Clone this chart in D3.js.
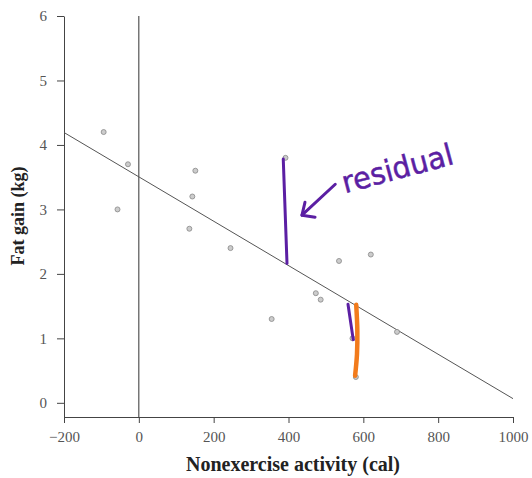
<!DOCTYPE html>
<html>
<head>
<meta charset="utf-8">
<script src="https://cdn.jsdelivr.net/npm/d3@7"></script>
<style>
  body { margin: 0; background: #fff; }
  .serif { font-family: "Liberation Serif", "Times New Roman", serif; }
  .tick text { font-family: "Liberation Serif", "Times New Roman", serif; font-size: 15px; fill: #555; }
  .tick line, .domain { stroke: #444; }
</style>
</head>
<body>
<div id="chart"></div>
<script>
// ---- data ----
const nea = [-94, -57, -29, 135, 143, 151, 245, 355, 392, 473, 486, 535, 571, 580, 620, 690];
const fat = [4.2, 3.0, 3.7, 2.7, 3.2, 3.6, 2.4, 1.3, 3.8, 1.7, 1.6, 2.2, 1.0, 0.4, 2.3, 1.1];

// fitted line: fat = a + b * nea
const intercept = 3.505;
const slope = -0.00344;

const xTicks = [-200, 0, 200, 400, 600, 800, 1000];
const yTicks = [0, 1, 2, 3, 4, 5, 6];

// hand drawn marks, in data units
const purpleLong = [[386, 3.78], [396, 2.16]];
const purpleShort = [[559, 1.53], [573, 0.98]];
const orangeMark = [[581, 1.52], [584, 1.12], [583, 0.75], [578, 0.42]];
const arrowShaft = [[525, 3.39], [436, 2.91]];
const arrowHead = [[444, 3.11], [436, 2.91], [471, 2.88]];
const noteText = "residual";
const notePos = [551, 3.25];

// ---- svg ----
const width = 532;
const height = 478;
const svg = d3.select("#chart")
  .append("svg")
  .attr("width", width)
  .attr("height", height);

const x = d3.scaleLinear().domain([-200, 1000]).range([64, 513]);
const y = d3.scaleLinear().domain([-0.22, 6]).range([417, 16]);

// axes
svg.append("g")
  .attr("transform", `translate(0, ${y(-0.22)})`)
  .call(d3.axisBottom(x).tickValues(xTicks).tickSize(6).tickSizeOuter(0)
    .tickFormat(d => d < 0 ? "\u2212" + Math.abs(d) : d))
  .call(g => g.selectAll(".tick text").attr("y", 14));

svg.append("g")
  .attr("transform", `translate(${x(-200)}, 0)`)
  .call(d3.axisLeft(y).tickValues(yTicks).tickSize(7).tickSizeOuter(0).tickFormat(d3.format("d")))
  .call(g => g.selectAll(".tick text").attr("x", -17));

// zero line
svg.append("line")
  .attr("x1", x(0)).attr("x2", x(0))
  .attr("y1", y(6)).attr("y2", y(-0.22))
  .attr("stroke", "#333");

// regression line
const fit = d => intercept + slope * d;
svg.append("line")
  .attr("x1", x(-200)).attr("y1", y(fit(-200)))
  .attr("x2", x(1000)).attr("y2", y(fit(1000)))
  .attr("stroke", "#555")
  .attr("stroke-width", 1);

// points
svg.selectAll("circle.pt")
  .data(nea.map((d, i) => [d, fat[i]]))
  .enter()
  .append("circle")
  .attr("class", "pt")
  .attr("cx", d => x(d[0]))
  .attr("cy", d => y(d[1]))
  .attr("r", 2.5)
  .attr("fill", "#ccc")
  .attr("stroke", "#888")
  .attr("stroke-width", 0.8);

// titles
svg.append("text")
  .attr("class", "serif")
  .attr("x", 293).attr("y", 471)
  .attr("text-anchor", "middle")
  .attr("font-weight", "bold")
  .attr("font-size", 20)
  .attr("fill", "#222")
  .text("Nonexercise activity (cal)");

svg.append("text")
  .attr("class", "serif")
  .attr("transform", "translate(24, 216) rotate(-90)")
  .attr("text-anchor", "middle")
  .attr("font-weight", "bold")
  .attr("font-size", 18)
  .attr("fill", "#222")
  .text("Fat gain (kg)");

// hand drawn annotations
const line = d3.line().x(d => x(d[0])).y(d => y(d[1]));
const purple = "#5b1fa3";

svg.append("path").attr("d", line(purpleLong))
  .attr("stroke", purple).attr("stroke-width", 3).attr("fill", "none").attr("stroke-linecap", "round");
svg.append("path").attr("d", line(purpleShort))
  .attr("stroke", purple).attr("stroke-width", 3).attr("fill", "none").attr("stroke-linecap", "round");
svg.append("path").attr("d", line.curve(d3.curveCatmullRom)(orangeMark))
  .attr("stroke", "#f27b1c").attr("stroke-width", 4.5).attr("fill", "none").attr("stroke-linecap", "round");
line.curve(d3.curveLinear);
svg.append("path").attr("d", line(arrowShaft))
  .attr("stroke", purple).attr("stroke-width", 3).attr("fill", "none").attr("stroke-linecap", "round");
svg.append("path").attr("d", line(arrowHead))
  .attr("stroke", purple).attr("stroke-width", 3).attr("fill", "none")
  .attr("stroke-linecap", "round").attr("stroke-linejoin", "round");

svg.append("text")
  .attr("transform", `translate(${x(notePos[0])}, ${y(notePos[1])}) rotate(-15)`)
  .style("font-family", "'DejaVu Sans', sans-serif")
  .attr("font-size", 30)
  .attr("textLength", 114)
  .attr("lengthAdjust", "spacingAndGlyphs")
  .attr("fill", purple)
  .attr("stroke", purple)
  .attr("stroke-width", 0.5)
  .text(noteText);
</script>
</body>
</html>
